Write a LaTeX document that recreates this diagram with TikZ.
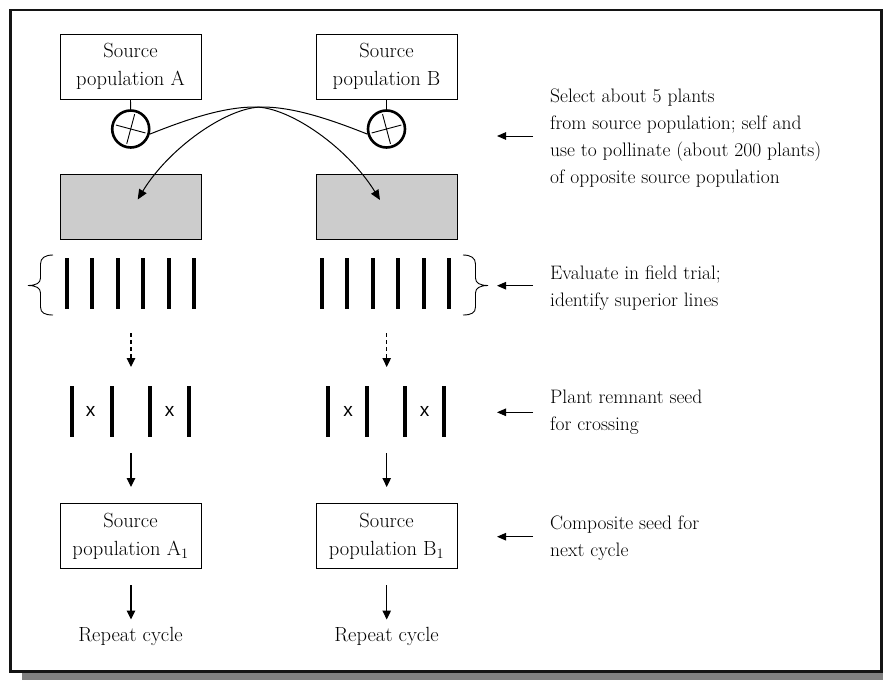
\documentclass[tikz,border=0pt]{standalone}
\usepackage{fontspec}
\newfontfamily\xsans{Liberation Sans}
\usetikzlibrary{arrows.meta}
\definecolor{boxgray}{RGB}{204,204,204}
\definecolor{shadowc}{RGB}{128,128,128}
\definecolor{framec}{RGB}{20,20,20}
\begin{document}
\begin{tikzpicture}[x=1pt,y=-1pt,
  box/.style={draw, line width=0.9pt, minimum width=141pt, minimum height=65pt, inner sep=0pt, align=center, font=\fontsize{20.5}{28}\selectfont},
  graybox/.style={draw, line width=0.9pt, fill=boxgray, minimum width=141pt, minimum height=65pt, inner sep=0pt},
  selfc/.style={circle, draw, line width=2.6pt, minimum size=37pt, inner sep=0pt},
  bar/.style={line width=4pt},
  arr/.style={line width=1.1pt, -{Triangle[length=9pt,width=8.5pt]}},
  curvearr/.style={line width=1pt, -{Triangle[length=10pt,width=8.5pt]}},
  sidearr/.style={line width=1pt, -{Triangle[length=9pt,width=7.5pt]}},
  note/.style={anchor=west, align=left, inner sep=0pt, font=\fontsize{19.5}{26.8}\selectfont},
  xmark/.style={inner sep=0pt, font=\xsans\fontsize{19}{19}\selectfont},
  brace/.style={line width=0.9pt},
  cross/.style={line width=0.9pt, shorten >=4.5pt, shorten <=4.5pt}
]
\useasboundingbox (0,0) rectangle (883,680);
% frame with shadow
\fill[shadowc] (22.3,671) rectangle (883,680);
\draw[line width=2.6pt, framec] (10.6,10) rectangle (881.4,671.3);

% top source boxes
\node[box] (sA) at (130.5,66.5) {Source\\population A};
\node[box] (sB) at (386.5,66.5) {Source\\population B};
% selfing circles
\node[selfc] (cA) at (130.7,129) {};
\node[selfc] (cB) at (386.5,129) {};
\draw[line width=0.9pt] (sA.south) -- (cA.north);
\draw[line width=0.9pt] (sB.south) -- (cB.north);
\draw[cross] (cA.165) -- (cA.-15);
\draw[cross] (cA.75) -- (cA.255);
\draw[cross] (cB.195) -- (cB.15);
\draw[cross] (cB.105) -- (cB.285);

% gray boxes
\node[graybox] (gA) at (130.5,206.5) {};
\node[graybox] (gB) at (386.5,206.5) {};
\coordinate (tA) at (137.7,199.5);
\coordinate (tB) at (380,200);
\draw[curvearr] (cA.-15) .. controls (190,118) and (225,107) .. (255,107) .. controls (290,107) and (348,148) .. (tB);
\draw[curvearr] (cB.195) .. controls (327,118) and (292,107) .. (262,107) .. controls (227,107) and (169,148) .. (tA);

% field trial lines
\foreach \x in {66.7,92.2,117.7,143.2,168.7,194.2}{
  \draw[bar] (\x,258) -- (\x,309);
  \draw[bar] (\x+255,258) -- (\x+255,309);
}
% braces
\draw[brace] (53,255) .. controls (45,255) and (40.5,258) .. (40.5,264) -- (40.5,278)
  .. controls (40.5,283) and (36,285.5) .. (28,285.5)
  .. controls (36,285.5) and (40.5,288) .. (40.5,293) -- (40.5,307)
  .. controls (40.5,313) and (45,315) .. (53,315);
\draw[brace] (463,255) .. controls (471,255) and (475.5,258) .. (475.5,264) -- (475.5,278)
  .. controls (475.5,283) and (480,285.5) .. (488,285.5)
  .. controls (480,285.5) and (475.5,288) .. (475.5,293) -- (475.5,307)
  .. controls (475.5,313) and (471,315) .. (463,315);

% dashed arrows
\coordinate (dA0) at (131,333); \coordinate (dA1) at (131,367);
\coordinate (dB0) at (386.7,333); \coordinate (dB1) at (386.7,367);
\draw[arr, dash pattern=on 4pt off 3pt] (dA0) -- (dA1);
\draw[arr, dash pattern=on 4pt off 3pt] (dB0) -- (dB1);

% crossing block
\foreach \x in {71.7,111.7,150,189,328.3,366.7,405,444}{
  \draw[bar] (\x,386) -- (\x,437);
}
\node[xmark] (xA1) at (90.5,411.5) {x};
\node[xmark] (xA2) at (169.5,411.5) {x};
\node[xmark] (xB1) at (348,411.5) {x};
\node[xmark] (xB2) at (424.5,411.5) {x};

% solid arrows to composite
\coordinate (aA0) at (131,453); \coordinate (aA1) at (131,487);
\coordinate (aB0) at (386.7,453); \coordinate (aB1) at (386.7,487);
\draw[arr] (aA0) -- (aA1);
\draw[arr] (aB0) -- (aB1);

% bottom source boxes
\node[box] (sA1) at (130.5,536) {Source\\population A\textsubscript{1}};
\node[box] (sB1) at (386.5,536) {Source\\population B\textsubscript{1}};

% repeat cycle
\node[inner sep=0pt, font=\fontsize{20.5}{24}\selectfont] (rA) at (130.5,636) {Repeat cycle};
\node[inner sep=0pt, font=\fontsize{20.5}{24}\selectfont] (rB) at (386.5,636) {Repeat cycle};
\coordinate (bA0) at (131,585); \coordinate (bA1) at (131,619.5);
\coordinate (bB0) at (386.7,585); \coordinate (bB1) at (386.7,619.5);
\draw[arr] (bA0) -- (bA1);
\draw[arr] (bB0) -- (bB1);

% side notes
\node[note] (n1) at (550,138) {Select about 5 plants\\from source population; self and\\use to pollinate (about 200 plants)\\of opposite source population};
\node[note] (n2) at (550,288) {Evaluate in field trial;\\identify superior lines};
\node[note] (n3) at (550,412) {Plant remnant seed\\for crossing};
\node[note] (n4) at (550,538) {Composite seed for\\next cycle};
\coordinate (p1) at (533,136); \coordinate (q1) at (497,136);
\coordinate (p2) at (533,285.7); \coordinate (q2) at (497,285.7);
\coordinate (p3) at (533,412.3); \coordinate (q3) at (497,412.3);
\coordinate (p4) at (533,536.7); \coordinate (q4) at (497,536.7);
\draw[sidearr] (p1) -- (q1);
\draw[sidearr] (p2) -- (q2);
\draw[sidearr] (p3) -- (q3);
\draw[sidearr] (p4) -- (q4);
\end{tikzpicture}
\end{document}
